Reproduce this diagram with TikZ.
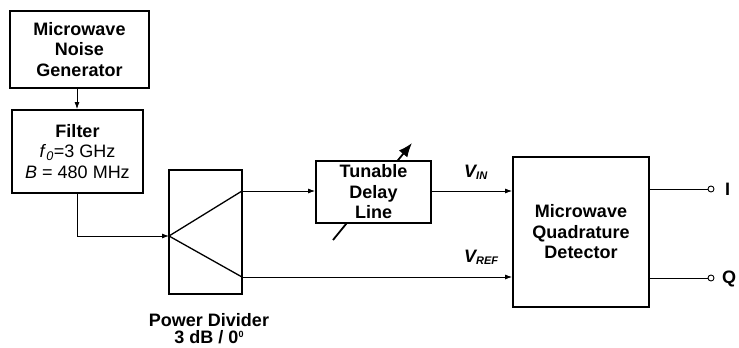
\documentclass[tikz,border=0pt]{standalone}
\usepackage{fontspec}
\setmainfont{Liberation Sans}
\usetikzlibrary{arrows.meta}
\begin{document}
\begin{tikzpicture}[x=1pt,y=-1pt,
  blk/.style={draw,line width=1.8pt,inner sep=0pt,align=center,fill=white,font=\fontsize{18}{20.5}\selectfont\bfseries},
  conn/.style={line width=0.9pt},
  arr/.style={conn,-{Latex[length=7pt,width=5pt]}},
  lbl/.style={font=\fontsize{18}{17}\selectfont\bfseries,inner sep=0pt},
  port/.style={circle,draw,line width=0.9pt,fill=white,inner sep=0pt,minimum size=6pt}]
\useasboundingbox (0,0) rectangle (739,348);
\coordinate (da) at (333,240);
\coordinate (db) at (412,143);
\draw[line width=1.8pt,-{Latex[length=14pt,width=11pt]}] (da) -- (db);
\node[blk,minimum width=139pt,minimum height=77pt] (gen) at (79.5,49.5) {Microwave\\Noise\\Generator};
\node[blk,minimum width=131pt,minimum height=83pt] (filt) at (77.5,151.5) {Filter\\{\mdseries\itshape f\/\textsubscript{0}\upshape=3 GHz}\\{\mdseries\itshape B\upshape\ = 480 MHz}};
\node[blk,minimum width=73pt,minimum height=124pt] (pd) at (205.5,232) {};
\node[blk,minimum width=115pt,minimum height=62pt] (dl) at (373.5,192) {Tunable\\Delay\\Line};
\node[blk,minimum width=136pt,minimum height=150pt] (det) at (581,232) {Microwave\\Quadrature\\Detector};
\coordinate (apex) at (169,236);
\coordinate (pu) at (242,191);
\coordinate (pl) at (242,277);
\coordinate (fd) at (77,236);
\node[port] (pi) at (711,189) {};
\node[port] (pq) at (711,278) {};
\node[lbl,anchor=west] (il) at (725,189) {I};
\node[lbl,anchor=west] (ql) at (722,279) {Q};
\node[lbl,anchor=base] (pdl1) at (209,326) {Power Divider};
\node[lbl,anchor=base] (pdl2) at (209,343) {3 dB / 0\raisebox{6pt}{\fontsize{9}{9}\selectfont 0}};
\node[anchor=base west,inner sep=0pt,font=\fontsize{18}{20}\selectfont\bfseries\itshape] (vin) at (464,177) {V\textsubscript{\fontsize{11}{11}\selectfont IN}};
\node[anchor=base west,inner sep=0pt,font=\fontsize{18}{20}\selectfont\bfseries\itshape] (vref) at (464,262) {V\textsubscript{\fontsize{11}{11}\selectfont REF}};
\draw[arr] (gen.south -| fd) -- (filt.north -| fd);
\draw[arr] (filt.south -| fd) -- (fd) -- (apex);
\draw[line width=1.3pt] (pu) -- (apex) -- (pl);
\draw[arr] (pu) -- (dl.west |- pu);
\draw[arr] (pl) -- (det.west |- pl);
\draw[arr] (dl.east |- pu) -- (det.west |- pu);
\draw[conn] (det.east |- pi) -- (pi);
\draw[conn] (det.east |- pq) -- (pq);
\end{tikzpicture}
\end{document}
